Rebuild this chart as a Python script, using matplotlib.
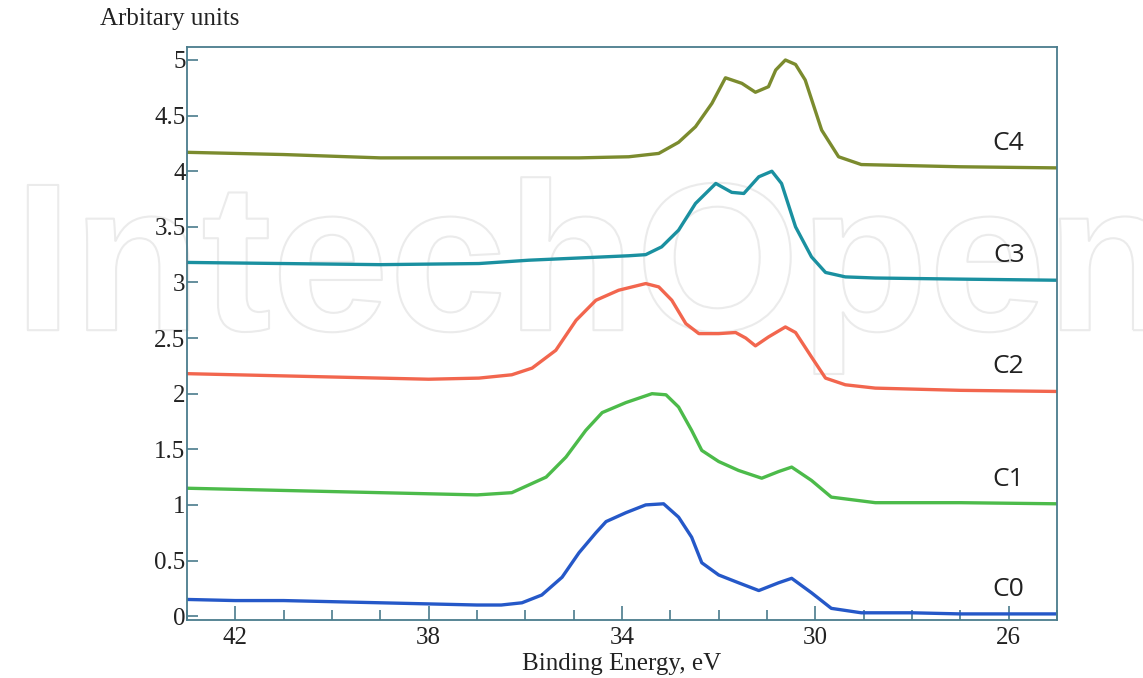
import matplotlib
matplotlib.use("Agg")
import matplotlib.pyplot as plt
import matplotlib.patheffects as pe
import numpy as np

# binding energy (eV) and intensity, one pair per sample
e_c0 = [43, 42, 41, 40, 39, 38, 37, 36.5, 36.07, 35.66, 35.24, 34.89, 34.54, 34.33, 33.92,
        33.51, 33.14, 32.83, 32.56, 32.35, 32.0, 31.59, 31.17, 30.76, 30.49, 30.08, 29.67,
        29.05, 28, 27, 26, 25]
v_c0 = [0.15, 0.14, 0.14, 0.13, 0.12, 0.11, 0.10, 0.10, 0.12, 0.19, 0.35, 0.57, 0.75, 0.85, 0.93,
        1.00, 1.01, 0.89, 0.71, 0.48, 0.37, 0.30, 0.23, 0.30, 0.34, 0.21, 0.07,
        0.03, 0.03, 0.02, 0.02, 0.02]

e_c1 = [43, 42, 41, 40, 39, 38, 37, 36.28, 35.57, 35.16, 34.75, 34.41, 33.92, 33.38, 33.09,
        32.83, 32.56, 32.35, 32.0, 31.59, 31.11, 30.76, 30.49, 30.08, 29.67, 28.76, 27, 25]
v_c1 = [1.15, 1.14, 1.13, 1.12, 1.11, 1.10, 1.09, 1.11, 1.25, 1.43, 1.67, 1.83, 1.92, 2.00, 1.99,
        1.88, 1.67, 1.49, 1.39, 1.31, 1.24, 1.30, 1.34, 1.22, 1.07, 1.02, 1.02, 1.01]

e_c2 = [43, 42, 41, 40, 39, 38, 36.96, 36.28, 35.86, 35.37, 34.95, 34.54, 34.07, 33.51, 33.24,
        32.97, 32.68, 32.41, 32.0, 31.65, 31.44, 31.24, 30.97, 30.62, 30.41, 30.08, 29.79,
        29.38, 28.76, 27, 25]
v_c2 = [2.18, 2.17, 2.16, 2.15, 2.14, 2.13, 2.14, 2.17, 2.23, 2.39, 2.66, 2.84, 2.93, 2.99, 2.96,
        2.84, 2.63, 2.54, 2.54, 2.55, 2.50, 2.43, 2.51, 2.60, 2.55, 2.33, 2.14,
        2.08, 2.05, 2.03, 2.02]

e_c3 = [43, 41, 39, 36.96, 35.93, 34.89, 33.86, 33.51, 33.18, 32.83, 32.48, 32.06, 31.73, 31.48,
        31.17, 30.90, 30.70, 30.41, 30.08, 29.79, 29.38, 28.76, 27, 25]
v_c3 = [3.18, 3.17, 3.16, 3.17, 3.20, 3.22, 3.24, 3.25, 3.32, 3.47, 3.71, 3.89, 3.81, 3.80,
        3.95, 4.00, 3.89, 3.50, 3.23, 3.09, 3.05, 3.04, 3.03, 3.02]

e_c4 = [43, 41, 39, 36.96, 34.89, 33.86, 33.24, 32.83, 32.48, 32.14, 31.86, 31.52, 31.24, 30.97,
        30.82, 30.62, 30.41, 30.21, 29.87, 29.52, 29.05, 27, 25]
v_c4 = [4.17, 4.15, 4.12, 4.12, 4.12, 4.13, 4.16, 4.26, 4.40, 4.61, 4.84, 4.79, 4.71, 4.76,
        4.91, 5.00, 4.96, 4.82, 4.37, 4.13, 4.06, 4.04, 4.03]

names = ["C0", "C1", "C2", "C3", "C4"]
energies = [e_c0, e_c1, e_c2, e_c3, e_c4]
values = [v_c0, v_c1, v_c2, v_c3, v_c4]
colors = ["#2558c8", "#4cbb4a", "#f2664e", "#1a90a0", "#7b8b2e"]

fig = plt.figure(figsize=(11.43, 6.78), dpi=100)

# faint outlined watermark, kept under the axes
fig.text(0.012, 0.513, "IntechOpen", fontsize=152, family="Liberation Sans",
         fontweight="bold", ha="left", va="baseline", color="none", zorder=-5,
         path_effects=[pe.withStroke(linewidth=1.5, foreground="#ebebeb")])

ax = fig.add_axes([0.1636, 0.0855, 0.7612, 0.8452])
ax.patch.set_alpha(0)

for e, v, c, n in zip(energies, values, colors, names):
    ax.plot(e, v, color=c, lw=2.4, solid_joinstyle="round")
    ax.text(26.0, v[-1] + 0.22, n, fontsize=19, family="Open Sans",
            ha="center", va="center", color="#222222")

ax.set_xlim(43, 25)
ax.set_ylim(-0.035, 5.117)
ax.set_xticks([42, 38, 34, 30, 26])
ax.set_xticks(np.arange(25, 43.5, 1), minor=True)
ax.set_yticks(np.arange(0, 5.01, 0.5))
ax.set_yticklabels(["%g" % t for t in np.arange(0, 5.01, 0.5)])

axc = "#4a7c8c"
for s in ax.spines.values():
    s.set_color(axc)
    s.set_linewidth(1.3)
ax.tick_params(axis="x", which="major", direction="in", length=10, width=1.2, color=axc,
               labelsize=18, pad=5)
ax.tick_params(axis="x", which="minor", direction="in", length=7, width=1.2, color=axc)
ax.tick_params(axis="y", which="major", direction="in", length=8, width=1.2, color=axc,
               labelsize=18, pad=1)
for lab in ax.get_xticklabels() + ax.get_yticklabels():
    lab.set_family("Liberation Serif")
    lab.set_color("#222222")

ax.set_xlabel("Binding Energy, eV", fontsize=18, family="Liberation Serif", labelpad=3,
              color="#222222")
fig.text(0.0875, 0.972, "Arbitary units", fontsize=18, family="Liberation Serif",
         ha="left", va="center", color="#222222")

fig.savefig("out.png", dpi=100)
